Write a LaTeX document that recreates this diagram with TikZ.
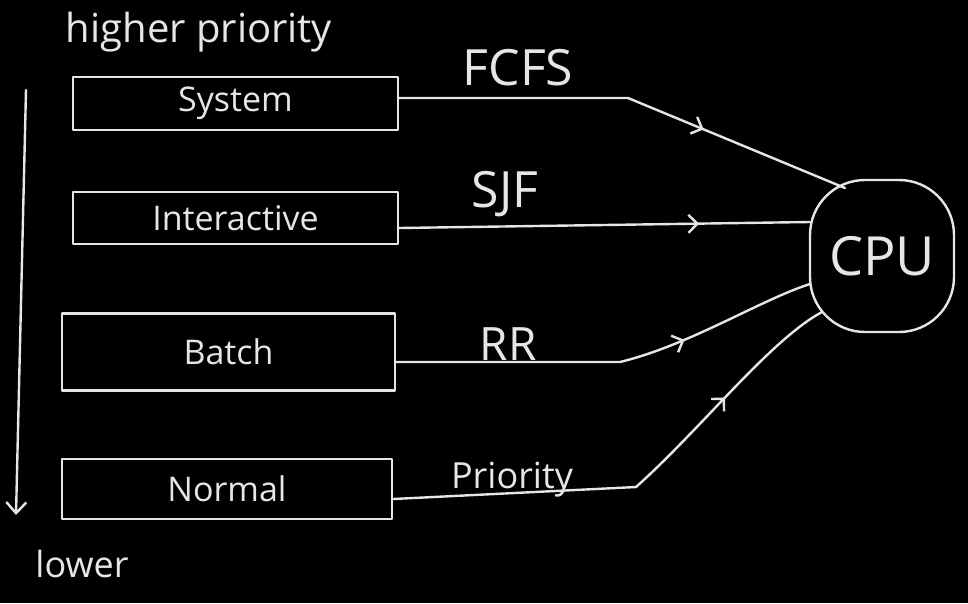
\documentclass[tikz,border=0pt]{standalone}
\usepackage{fontspec}
\setmainfont{Open Sans}
\usetikzlibrary{decorations.markings,arrows.meta}
\definecolor{chalk}{HTML}{E6E6E6}
\begin{document}
\begin{tikzpicture}[x=1pt,y=-1pt,color=chalk,line width=2.4pt,line cap=round,line join=round,
  queuebox/.style={draw=chalk,line width=2.4pt,inner sep=0pt,font=\fontsize{34}{36}\selectfont,text=chalk},
  lbl/.style={draw=none,text=chalk,inner sep=0pt},
  barb/.style={Straight Barb[length=9pt,width=18pt,line width=2.4pt]},
  midarrow/.style={postaction={decorate},decoration={markings,mark=at position #1 with {\arrow{Straight Barb[length=9pt,width=18pt,line width=2.4pt]}}}}
]
\fill[black] (0,0) rectangle (968,603);
\useasboundingbox (0,0) rectangle (968,603);

% queues
\node[queuebox,minimum width=325pt,minimum height=53pt] (sys) at (235.5,103.5) {System};
\node[queuebox,minimum width=325pt,minimum height=52pt] (int) at (235.5,218) {Interactive};
\node[queuebox,minimum width=333pt,minimum height=77pt] (bat) at (228.5,352) {Batch};
\node[queuebox,minimum width=330pt,minimum height=60pt] (nor) at (227,489) {Normal};

% CPU
\node[draw=chalk,line width=2.4pt,rounded corners=55pt,minimum width=144pt,minimum height=152pt,text=chalk,font=\fontsize{54}{58}\selectfont] (cpu) at (882,256) {CPU};

% points on the CPU outline and bend points
\coordinate (c1) at (845,188);
\coordinate (c2) at (810,222);
\coordinate (c3) at (810,284);
\coordinate (c4) at (822,312);
\coordinate (s1) at (628,98);
\coordinate (b1) at (620,362);
\coordinate (n1) at (636,487);

% connectors
\draw[midarrow=0.67] (sys.east |- s1) -- (s1) -- (c1);
\draw[midarrow=0.73] (sys.east |- int) ++(0,10) coordinate (i0) (i0) -- (c2);
\draw[midarrow=0.68] (bat.east |- b1) -- (b1) .. controls (690,345) and (760,300) .. (c3);
\draw[midarrow=0.74] (nor.east |- n1) ++(0,12) coordinate (n0) (n0) -- (n1) .. controls (700,430) and (770,340) .. (c4);

% labels
\node[lbl,font=\fontsize{50}{54}\selectfont] (fcfs) at (518,68) {FCFS};
\node[lbl,font=\fontsize{50}{54}\selectfont] (sjf) at (505,194) {SJF};
\node[lbl,font=\fontsize{46}{50}\selectfont] (rr) at (508,344) {RR};
\node[lbl,font=\fontsize{36}{40}\selectfont] (pri) at (512,480) {Priority};
\node[lbl,font=\fontsize{40}{44}\selectfont] (hi) at (199,32) {higher priority};
\node[lbl,font=\fontsize{36}{40}\selectfont] (lo) at (82,564) {lower};

% priority axis
\coordinate (ax0) at (26,90);
\coordinate (ax1) at (16,515);
\draw[-{Straight Barb[length=11pt,width=20pt,line width=2.4pt]}] (ax0) -- (ax1);
\end{tikzpicture}
\end{document}
